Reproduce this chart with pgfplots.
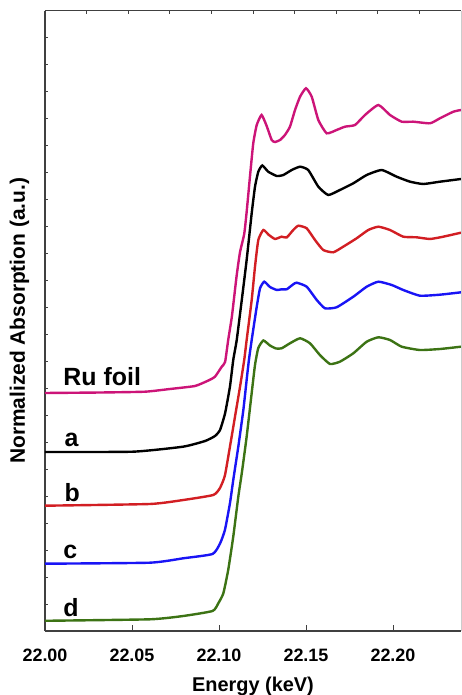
\documentclass[border=0pt]{standalone}
\usepackage{fontspec}
\setmainfont{Liberation Sans}
\usepackage{pgfplots}
\pgfplotsset{compat=1.18}
\definecolor{cmag}{RGB}{204,20,120}
\definecolor{cred}{RGB}{210,30,35}
\definecolor{cblue}{RGB}{25,20,245}
\definecolor{cgreen}{RGB}{60,115,20}
\begin{document}
\begin{tikzpicture}
% overlay axis: left and top frame with small inward ticks
\begin{axis}[at={(0,0)},anchor=south west,scale only axis,width=416bp,height=620.3bp,
  xmin=0,xmax=10,ymin=0,ymax=22.974,
  axis x line*=top, axis y line*=left,
  xtick={1,...,9}, ytick={1,...,22}, xticklabels={}, yticklabels={},
  tick align=inside, major tick length=3bp,
  axis line style={black!75,line width=1.2bp}, tick style={black!75,line width=0.8bp},
  ylabel={Normalized Absorption (a.u.)},
  ylabel style={font=\fontsize{21}{23}\selectfont\bfseries, at={(axis description cs:-0.0481,0.5)}, anchor=base}]
\end{axis}
\begin{axis}[at={(0,0)},anchor=south west,scale only axis,width=416bp,height=620.3bp,
  xmin=22,xmax=22.2391,ymin=0,ymax=22.974,
  axis x line*=bottom, axis y line=none,
  xtick={22.00,22.05,22.10,22.15,22.20}, ytick=\empty,
  tick align=inside, major tick length=6bp,
  axis line style={black!75,line width=1.2bp}, tick style={black!75,line width=0.9bp},
  /pgf/number format/assume math mode=true,
  xticklabel style={/pgf/number format/.cd,fixed,fixed zerofill,precision=2,/tikz/.cd,
    font=\fontsize{18}{20}\selectfont\bfseries, anchor=base, yshift=-30bp},
  xlabel={Energy (keV)},
  xlabel style={font=\fontsize{20}{22}\selectfont\bfseries, at={(axis description cs:0.5,-0.0983)}, anchor=base},
  every axis plot/.append style={line width=2.4bp, smooth, tension=0.3}]
% Ru foil
\addplot[cmag] coordinates {(22.0000,8.815)(22.0316,8.833)(22.0575,8.863)(22.0718,8.963)(22.0862,9.074)(22.0939,9.278)(22.0977,9.419)(22.1016,9.789)(22.1035,9.963)(22.1053,10.778)(22.1073,11.593)(22.1082,12.074)(22.1102,13.185)(22.1121,14.037)(22.1145,14.704)(22.1159,15.519)(22.1178,16.826)(22.1197,18.063)(22.1217,18.741)(22.1245,19.111)(22.1274,18.704)(22.1303,18.185)(22.1322,18.111)(22.1351,18.185)(22.1379,18.370)(22.1408,18.678)(22.1437,19.296)(22.1466,19.789)(22.1500,20.100)(22.1533,19.789)(22.1571,18.926)(22.1619,18.433)(22.1676,18.556)(22.1724,18.678)(22.1782,18.741)(22.1839,19.111)(22.1916,19.481)(22.1983,19.111)(22.2050,18.863)(22.2117,18.863)(22.2213,18.804)(22.2270,18.989)(22.2347,19.233)(22.2391,19.296)};
% a
\addplot[black] coordinates {(22.0000,6.630)(22.0506,6.641)(22.0793,6.826)(22.0920,7.037)(22.0977,7.222)(22.1006,7.444)(22.1035,8.063)(22.1063,9.048)(22.1082,10.037)(22.1102,10.778)(22.1131,12.259)(22.1159,13.741)(22.1188,15.470)(22.1207,16.456)(22.1226,17.011)(22.1249,17.241)(22.1283,17.011)(22.1332,16.852)(22.1370,16.889)(22.1418,17.074)(22.1466,17.196)(22.1513,17.074)(22.1571,16.456)(22.1628,16.148)(22.1695,16.333)(22.1772,16.581)(22.1849,16.889)(22.1935,17.074)(22.2021,16.826)(22.2098,16.641)(22.2174,16.556)(22.2270,16.641)(22.2391,16.741)};
% b
\addplot[cred] coordinates {(22.0000,4.641)(22.0603,4.704)(22.0795,4.852)(22.0967,5.037)(22.1006,5.300)(22.1034,5.760)(22.1063,6.826)(22.1092,7.937)(22.1121,9.048)(22.1145,10.037)(22.1159,10.778)(22.1188,12.259)(22.1207,13.493)(22.1226,14.481)(22.1255,14.852)(22.1287,14.667)(22.1322,14.519)(22.1360,14.604)(22.1389,14.574)(22.1427,14.852)(22.1456,15.011)(22.1504,14.915)(22.1552,14.481)(22.1599,14.111)(22.1657,14.026)(22.1714,14.233)(22.1791,14.544)(22.1858,14.852)(22.1916,14.974)(22.1983,14.852)(22.2059,14.604)(22.2136,14.581)(22.2213,14.519)(22.2289,14.604)(22.2391,14.752)};
% c
\addplot[cblue] coordinates {(22.0000,2.493)(22.0603,2.530)(22.0795,2.693)(22.0963,2.852)(22.1006,3.240)(22.1034,3.740)(22.1063,4.730)(22.1082,5.593)(22.1111,6.826)(22.1140,8.185)(22.1159,9.296)(22.1172,10.037)(22.1188,10.778)(22.1217,12.011)(22.1236,12.693)(22.1260,12.937)(22.1293,12.741)(22.1332,12.630)(22.1360,12.656)(22.1389,12.656)(22.1427,12.841)(22.1447,12.900)(22.1504,12.752)(22.1562,12.259)(22.1609,11.952)(22.1676,11.989)(22.1772,12.381)(22.1849,12.752)(22.1916,12.937)(22.1993,12.815)(22.2059,12.630)(22.2155,12.419)(22.2270,12.456)(22.2391,12.544)};
% d
\addplot[cgreen] coordinates {(22.0000,0.378)(22.0603,0.433)(22.0795,0.556)(22.0963,0.741)(22.0996,1.026)(22.1025,1.396)(22.1053,2.259)(22.1082,3.493)(22.1111,4.974)(22.1131,5.841)(22.1159,7.196)(22.1188,8.815)(22.1207,9.852)(22.1226,10.481)(22.1255,10.759)(22.1293,10.574)(22.1328,10.463)(22.1360,10.470)(22.1408,10.656)(22.1466,10.841)(22.1523,10.656)(22.1580,10.222)(22.1638,9.889)(22.1695,9.974)(22.1772,10.285)(22.1849,10.715)(22.1916,10.878)(22.1983,10.778)(22.2050,10.530)(22.2155,10.407)(22.2270,10.444)(22.2391,10.530)};
\node[anchor=base west,font=\fontsize{25}{28}\selectfont\bfseries] at (axis cs:22.0086,9.11) {Ru foil};
\node[anchor=base west,font=\fontsize{25}{28}\selectfont\bfseries] at (axis cs:22.0092,6.83) {a};
\node[anchor=base west,font=\fontsize{25}{28}\selectfont\bfseries] at (axis cs:22.0092,4.78) {b};
\node[anchor=base west,font=\fontsize{25}{28}\selectfont\bfseries] at (axis cs:22.0086,2.67) {c};
\node[anchor=base west,font=\fontsize{25}{28}\selectfont\bfseries] at (axis cs:22.0086,0.53) {d};
\end{axis}
\draw[black!20,line width=0.8bp] (416bp,0) -- (416bp,620.3bp);
\pgfresetboundingbox
\path (-45bp,-64bp) rectangle (417bp,631bp);
\end{tikzpicture}
\end{document}
